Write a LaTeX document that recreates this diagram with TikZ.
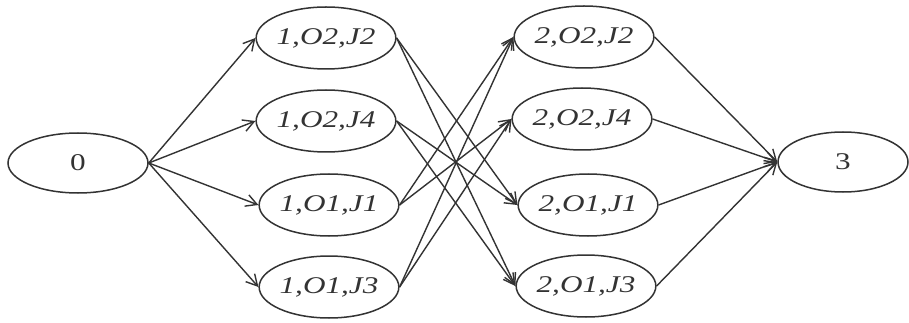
\documentclass[tikz,border=0pt]{standalone}
\usepackage{fontspec}
\setmainfont{Liberation Serif}
\usetikzlibrary{shapes.geometric,arrows.meta}
\tikzset{
  state/.style={draw=black!80, line width=1.5pt, ellipse, inner sep=0pt, minimum height=62pt, font=\fontsize{24}{24}\selectfont, text=black!80},
  small/.style={state, minimum width=136pt},
  big/.style={state, minimum width=138pt},
  link/.style={draw=black!80, line width=1.4pt, -{Straight Barb[length=11pt,width=12pt,line width=1.4pt]}}
}
\newcommand{\wlab}[1]{\scalebox{1.3}[1]{#1}}
\begin{document}
\begin{tikzpicture}[x=1pt,y=-1pt]
\useasboundingbox[fill=white] (0,0) rectangle (909,323);
\node[state, minimum width=140pt, minimum height=60pt] (s0) at (78,163) {\wlab{0}};
\node[small] (a1) at (326,38) {\wlab{\itshape 1,O2,J2}};
\node[small] (a2) at (326,121) {\wlab{\itshape 1,O2,J4}};
\node[small] (a3) at (329,205) {\wlab{\itshape 1,O1,J1}};
\node[small] (a4) at (329,287) {\wlab{\itshape 1,O1,J3}};
\node[big] (b1) at (584,37) {\wlab{\itshape 2,O2,J2}};
\node[big] (b2) at (582,119) {\wlab{\itshape 2,O2,J4}};
\node[big] (b3) at (588,205) {\wlab{\itshape 2,O1,J1}};
\node[big] (b4) at (586,286) {\wlab{\itshape 2,O1,J3}};
\node[state, minimum width=130pt, minimum height=60pt] (s3) at (843,162) {\wlab{3}};
\foreach \t in {a1,a2,a3,a4} \draw[link] (s0.east) -- (\t.west);
\foreach \s in {a1,a2} \foreach \t in {b3,b4} \draw[link] (\s.east) -- (\t.west);
\foreach \s in {a3,a4} \foreach \t in {b1,b2} \draw[link] (\s.east) -- (\t.west);
\foreach \s in {b1,b2,b3,b4} \draw[link] (\s.east) -- (s3.west);
\end{tikzpicture}
\end{document}
